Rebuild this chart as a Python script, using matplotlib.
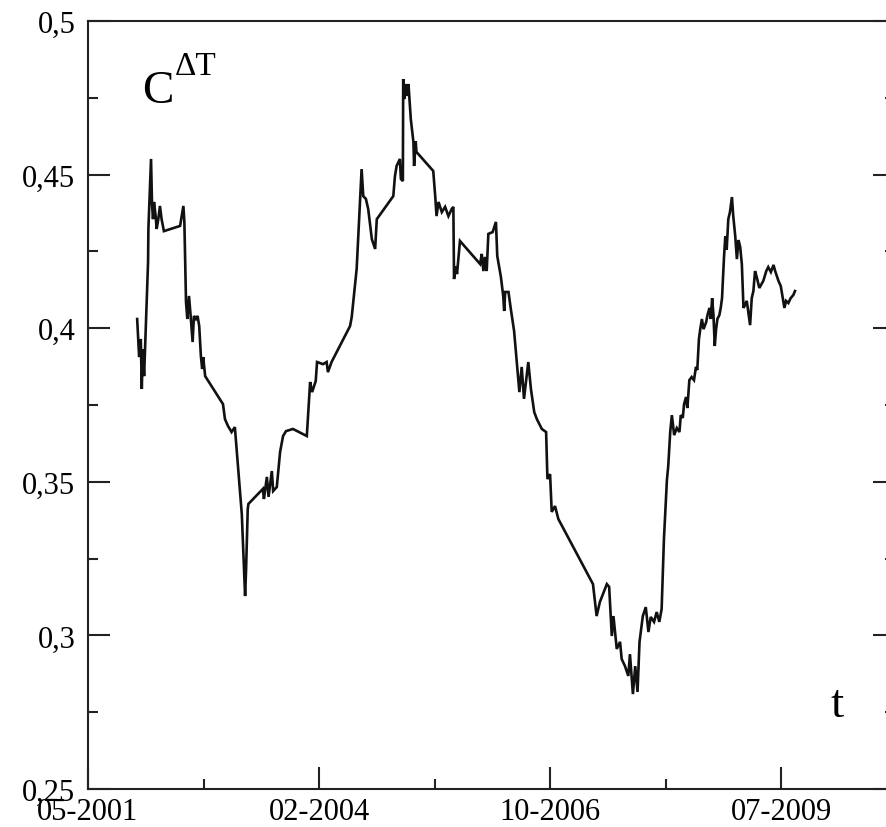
import matplotlib
matplotlib.use("Agg")
import matplotlib.pyplot as plt
from matplotlib.ticker import FixedLocator, FuncFormatter

# Trading-day index since May 2001 and the corresponding correlation value
day = [149, 155, 160, 163, 166, 170, 182, 183, 191, 194, 197, 200, 205, 208, 213,
       218, 223, 230, 279, 284, 289, 292, 297, 301, 306, 311, 317, 321, 327, 332,
       337, 342, 346, 349, 355, 409, 415, 424, 435, 445, 466, 476, 479, 484, 486,
       530, 533, 542, 547, 557, 561, 572, 582, 591, 600, 621, 663, 673, 679, 690,
       694, 712, 723, 727, 738, 794, 799, 814, 829, 834, 842, 849, 860, 870, 875,
       925, 930, 935, 945, 948, 954, 955, 959, 962, 967, 971, 978, 986, 988, 993,
       995, 1046, 1052, 1056, 1062, 1072, 1082, 1092, 1102, 1107, 1109, 1115, 1118, 1127, 1188,
       1193, 1198, 1203, 1208, 1213, 1226, 1236, 1240, 1246, 1251, 1258, 1261, 1264, 1274, 1281,
       1291, 1301, 1307, 1314, 1321, 1334, 1342, 1352, 1360, 1375, 1388, 1392, 1400, 1405, 1415,
       1425, 1530, 1541, 1551, 1572, 1579, 1587, 1592, 1602, 1612, 1617, 1627, 1637, 1642, 1651,
       1658, 1665, 1671, 1681, 1690, 1698, 1705, 1715, 1723, 1731, 1738, 1745, 1754, 1758, 1764,
       1769, 1776, 1784, 1792, 1796, 1802, 1806, 1812, 1816, 1822, 1829, 1836, 1842, 1846, 1851,
       1855, 1860, 1865, 1873, 1877, 1883, 1887, 1891, 1895, 1899, 1903, 1907, 1913, 1917, 1921,
       1927, 1931, 1935, 1940, 1945, 1951, 1955, 1961, 1966, 1971, 1976, 1981, 1986, 1991, 1996,
       2001, 2006, 2011, 2016, 2021, 2026, 2034, 2041, 2046, 2055, 2061, 2069, 2077, 2082, 2092,
       2099, 2105, 2110, 2115, 2122, 2129, 2137, 2142]

corr = [0.4030, 0.3906, 0.3965, 0.3802, 0.3932, 0.3844, 0.4215, 0.4323, 0.4551, 0.4404,
        0.4355, 0.4411, 0.4365, 0.4323, 0.4355, 0.4398, 0.4355, 0.4316, 0.4333, 0.4365,
        0.4398, 0.4346, 0.4085, 0.4030, 0.4105, 0.4040, 0.3955, 0.4040, 0.4030, 0.4040,
        0.4007, 0.3910, 0.3867, 0.3906, 0.3844, 0.3753, 0.3704, 0.3682, 0.3662, 0.3678,
        0.3395, 0.3128, 0.3216, 0.3411, 0.3428, 0.3477, 0.3444, 0.3516, 0.3451, 0.3535,
        0.3470, 0.3483, 0.3597, 0.3649, 0.3665, 0.3672, 0.3649, 0.3825, 0.3792, 0.3828,
        0.3890, 0.3883, 0.3890, 0.3857, 0.3890, 0.4007, 0.4036, 0.4193, 0.4518, 0.4430,
        0.4421, 0.4388, 0.4290, 0.4258, 0.4355, 0.4430, 0.4495, 0.4528, 0.4551, 0.4486,
        0.4479, 0.4811, 0.4746, 0.4795, 0.4756, 0.4795, 0.4681, 0.4606, 0.4528, 0.4609,
        0.4574, 0.4512, 0.4430, 0.4365, 0.4411, 0.4378, 0.4395, 0.4365, 0.4388, 0.4395,
        0.4160, 0.4202, 0.4176, 0.4284, 0.4209, 0.4242, 0.4186, 0.4232, 0.4186, 0.4307,
        0.4313, 0.4346, 0.4235, 0.4199, 0.4167, 0.4105, 0.4056, 0.4118, 0.4118, 0.4063,
        0.3991, 0.3867, 0.3792, 0.3874, 0.3770, 0.3890, 0.3802, 0.3727, 0.3704, 0.3672,
        0.3662, 0.3509, 0.3525, 0.3402, 0.3421, 0.3379, 0.3167, 0.3063, 0.3109, 0.3167,
        0.3158, 0.2998, 0.3063, 0.2956, 0.2979, 0.2923, 0.2900, 0.2868, 0.2939, 0.2809,
        0.2900, 0.2816, 0.2979, 0.3063, 0.3092, 0.3011, 0.3060, 0.3044, 0.3076, 0.3044,
        0.3086, 0.3314, 0.3506, 0.3551, 0.3662, 0.3717, 0.3652, 0.3675, 0.3662, 0.3717,
        0.3708, 0.3753, 0.3776, 0.3740, 0.3831, 0.3841, 0.3831, 0.3874, 0.3864, 0.3965,
        0.3997, 0.4030, 0.3997, 0.4020, 0.4043, 0.4066, 0.4030, 0.4098, 0.4043, 0.3942,
        0.3997, 0.4030, 0.4043, 0.4066, 0.4098, 0.4232, 0.4300, 0.4255, 0.4355, 0.4378,
        0.4427, 0.4365, 0.4300, 0.4225, 0.4287, 0.4264, 0.4209, 0.4066, 0.4076, 0.4089,
        0.4049, 0.4010, 0.4098, 0.4121, 0.4186, 0.4167, 0.4131, 0.4144, 0.4154, 0.4186,
        0.4199, 0.4183, 0.4206, 0.4186, 0.4154, 0.4137, 0.4098, 0.4066, 0.4089, 0.4082,
        0.4098, 0.4108, 0.4121]

date_ticks = [0, 700, 1400, 2100]
date_labels = ["05-2001", "02-2004", "10-2006", "07-2009"]
date_minor = [350, 1050, 1750]
y_ticks = [0.25, 0.30, 0.35, 0.40, 0.45, 0.50]
y_minor = [0.275, 0.325, 0.375, 0.425, 0.475]

plt.rcParams["font.family"] = ["Liberation Serif", "DejaVu Serif"]

fig = plt.figure(figsize=(8.87, 8.28), dpi=100)
ax = fig.add_axes([0.0992, 0.0459, 0.9098, 0.9275])

ax.plot(day, corr, color="#111111", lw=1.9, solid_joinstyle="miter")

ax.set_xlim(0, 2445)
ax.set_ylim(0.25, 0.5)

ax.xaxis.set_major_locator(FixedLocator(date_ticks))
ax.set_xticklabels(date_labels)
ax.xaxis.set_minor_locator(FixedLocator(date_minor))
ax.yaxis.set_major_locator(FixedLocator(y_ticks))
ax.yaxis.set_minor_locator(FixedLocator(y_minor))
ax.yaxis.set_major_formatter(FuncFormatter(lambda v, p: ("%g" % round(v, 3)).replace(".", ",")))

for side in ax.spines.values():
    side.set_linewidth(1.5)
    side.set_color("#222222")

ax.tick_params(axis="both", which="both", direction="in", color="#222222", width=1.5)
ax.tick_params(axis="both", which="major", length=15.5, labelsize=22)
ax.tick_params(axis="both", which="minor", length=7.5)
ax.tick_params(axis="y", which="both", right=True, pad=9)
ax.tick_params(axis="x", which="both", top=False, pad=5.5)

ax.text(0.0669, 0.8945, "C", transform=ax.transAxes, fontsize=34,
        ha="left", va="baseline")
ax.text(0.1078, 0.931, "\u0394T", transform=ax.transAxes, fontsize=24,
        ha="left", va="baseline")
ax.text(0.9195, 0.095, "t", transform=ax.transAxes, fontsize=34,
        ha="left", va="baseline")

fig.savefig("out.png", dpi=100)
